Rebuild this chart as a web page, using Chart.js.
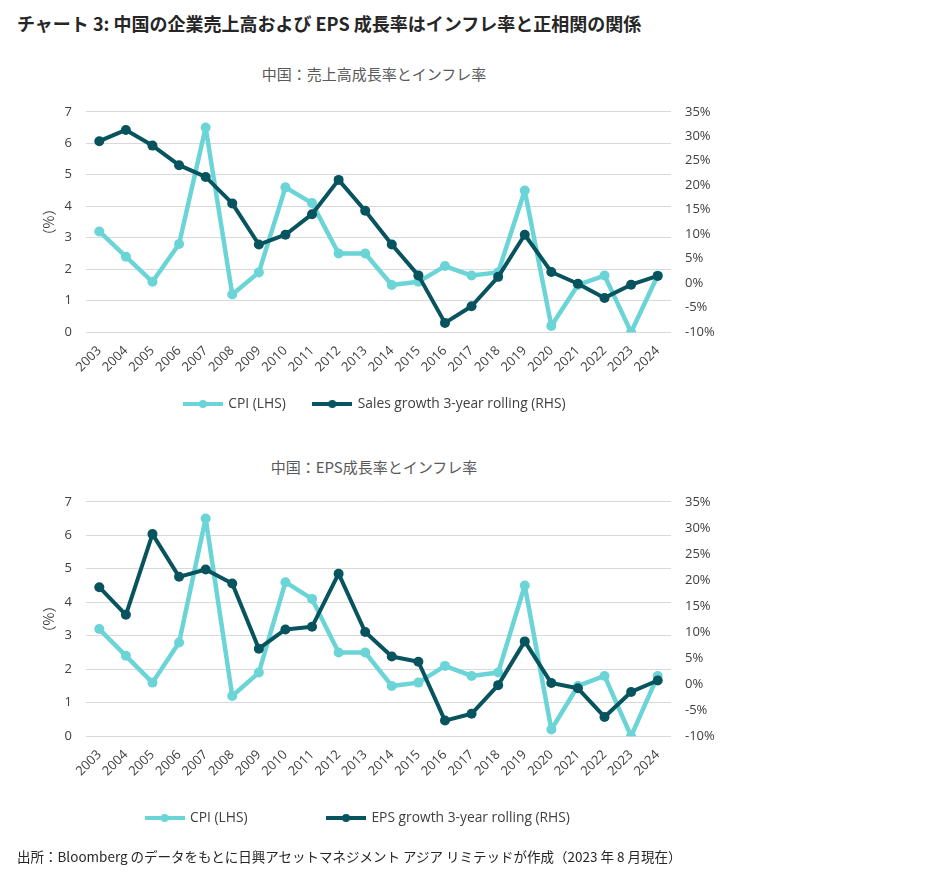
<!DOCTYPE html>
<html lang="ja">
<head>
<meta charset="utf-8">
<script src="https://cdn.jsdelivr.net/npm/chart.js@4.4.0/dist/chart.umd.min.js"></script>
<style>
  body {
    margin: 0;
    width: 932px;
    height: 887px;
    position: relative;
    overflow: hidden;
    background: #fff;
    font-family: "Noto Sans CJK JP", sans-serif;
  }
  .title {
    position: absolute;
    left: 17px;
    top: 10px;
    font-size: 18px;
    font-weight: bold;
    color: #262626;
    white-space: nowrap;
  }
  .subtitle {
    position: absolute;
    left: 0;
    width: 748px;
    text-align: center;
    font-size: 15px;
    color: #595959;
  }
  .source {
    position: absolute;
    left: 17px;
    top: 846px;
    font-size: 13.5px;
    color: #262626;
    white-space: nowrap;
  }
  canvas { position: absolute; left: 0; }
</style>
</head>
<body>
<div class="title">チャート 3: 中国の企業売上高および EPS 成長率はインフレ率と正相関の関係</div>
<div class="subtitle" style="top: 63px;">中国：売上高成長率とインフレ率</div>
<canvas id="sales-chart" width="932" height="345" style="top: 90px;"></canvas>
<div class="subtitle" style="top: 456px;">中国：EPS成長率とインフレ率</div>
<canvas id="eps-chart" width="932" height="410" style="top: 480px;"></canvas>
<div class="source">出所：Bloomberg のデータをもとに日興アセットマネジメント アジア リミテッドが作成（2023 年 8 月現在）</div>

<script>
// ==================== Data ====================

const YEARS = ['2003', '2004', '2005', '2006', '2007', '2008', '2009', '2010', '2011', '2012', '2013',
  '2014', '2015', '2016', '2017', '2018', '2019', '2020', '2021', '2022', '2023', '2024'];

// CPI, % (left axis)
const CPI = [3.2, 2.4, 1.6, 2.8, 6.5, 1.2, 1.9, 4.6, 4.1, 2.5, 2.5,
  1.5, 1.6, 2.1, 1.8, 1.9, 4.5, 0.2, 1.5, 1.8, 0.0, 1.8];

// Sales growth 3-year rolling, % (right axis)
const SALES_GROWTH = [29.0, 31.3, 28.1, 24.1, 21.7, 16.3, 7.9, 9.9, 14.1, 21.1, 14.8,
  7.9, 1.6, -8.1, -4.7, 1.3, 9.9, 2.3, -0.1, -3.0, -0.3, 1.5];

// EPS growth 3-year rolling, % (right axis)
const EPS_GROWTH = [18.6, 13.3, 28.8, 20.6, 22.0, 19.3, 6.8, 10.5, 11.0, 21.2, 10.0,
  5.3, 4.3, -7.0, -5.7, -0.2, 8.2, 0.2, -0.8, -6.3, -1.5, 0.7];

// Axis ranges
const LEFT_RANGE = [0, 7, 1];       // min, max, step
const RIGHT_RANGE = [-10, 35, 5];   // min, max, step

const CPI_COLOR = '#6bd4d6';
const GROWTH_COLOR = '#07535e';
const TEXT_COLOR = '#404040';
const GRID_COLOR = '#d9d9d9';
const TICK_FONT = { family: '"Open Sans", sans-serif', size: 13 };
const LEGEND_FONT_SIZE = 13.8;

// ==================== Helpers ====================

/**
 * Line-with-dot marker used as legend point style
 */
function legendMarker(color) {
  const c = document.createElement('canvas');
  c.width = 40;
  c.height = 10;
  const g = c.getContext('2d');
  g.strokeStyle = color;
  g.lineWidth = 4;
  g.beginPath();
  g.moveTo(0, 5);
  g.lineTo(40, 5);
  g.stroke();
  g.fillStyle = color;
  g.beginPath();
  g.arc(20, 5, 4, 0, Math.PI * 2);
  g.fill();
  return c;
}

/**
 * Put the legend row at a fixed height, independent of its item spacing
 */
const legendPlace = {
  id: 'legendPlace',
  afterLayout(chart, args, opts) {
    const lg = chart.legend;
    if (!lg || opts.textY == null) return;
    const shift = opts.textY - (lg.top + lg.options.labels.padding + LEGEND_FONT_SIZE / 2);
    lg.top += shift;
    lg.bottom += shift;
  }
};

/**
 * Build one dual-axis line chart
 */
function makeChart(canvasId, growthData, growthLabel, layout) {
  const ctx = document.getElementById(canvasId).getContext('2d');
  const markers = [legendMarker(CPI_COLOR), legendMarker(GROWTH_COLOR)];

  const lineStyle = {
    borderWidth: 4.5,
    borderJoinStyle: 'round',
    borderCapStyle: 'round',
    pointRadius: 5,
    pointHoverRadius: 5,
    pointBorderWidth: 0
  };

  return new Chart(ctx, {
    type: 'line',
    plugins: [legendPlace],
    data: {
      labels: YEARS,
      datasets: [
        {
          ...lineStyle,
          label: 'CPI (LHS)',
          data: CPI,
          yAxisID: 'yLeft',
          borderColor: CPI_COLOR,
          backgroundColor: CPI_COLOR,
          order: 2
        },
        {
          ...lineStyle,
          label: growthLabel,
          data: growthData,
          yAxisID: 'yRight',
          borderColor: GROWTH_COLOR,
          backgroundColor: GROWTH_COLOR,
          borderWidth: 4,
          order: 1
        }
      ]
    },
    options: {
      responsive: false,
      animation: false,
      devicePixelRatio: 1,
      layout: {
        padding: { left: 0, right: 932 - 671 - layout.rightWidth, top: layout.top, bottom: layout.bottom }
      },
      plugins: {
        tooltip: { enabled: false },
        legendPlace: { textY: layout.legendY },
        legend: {
          position: 'bottom',
          labels: {
            usePointStyle: true,
            pointStyleWidth: 37,
            padding: layout.legendGap,
            color: TEXT_COLOR,
            font: { family: '"Open Sans", sans-serif', size: LEGEND_FONT_SIZE },
            generateLabels: (chart) => chart.data.datasets.map((ds, i) => ({
              text: ds.label,
              pointStyle: markers[i],
              fillStyle: ds.borderColor,
              strokeStyle: ds.borderColor,
              lineWidth: 0,
              fontColor: TEXT_COLOR,
              hidden: false,
              datasetIndex: i
            }))
          }
        }
      },
      scales: {
        x: {
          offset: true,
          grid: { display: false },
          border: { display: false },
          ticks: {
            minRotation: 45,
            maxRotation: 45,
            autoSkip: false,
            padding: 3,
            color: TEXT_COLOR,
            font: TICK_FONT
          },
          afterFit: (scale) => { scale.height = 46; }
        },
        yLeft: {
          position: 'left',
          min: LEFT_RANGE[0],
          max: LEFT_RANGE[1],
          grid: { color: GRID_COLOR, drawTicks: false },
          border: { display: false },
          ticks: { stepSize: LEFT_RANGE[2], padding: 14, color: TEXT_COLOR, font: TICK_FONT },
          title: {
            display: true,
            text: '（%）',
            color: TEXT_COLOR,
            font: { family: '"Noto Sans CJK JP", sans-serif', size: 14 },
            padding: { top: 40, bottom: 0 }
          },
          afterFit: (scale) => { scale.width = 86; }
        },
        yRight: {
          position: 'right',
          min: RIGHT_RANGE[0],
          max: RIGHT_RANGE[1],
          grid: { drawOnChartArea: false, drawTicks: false },
          border: { display: false },
          ticks: {
            stepSize: RIGHT_RANGE[2],
            padding: 14,
            color: TEXT_COLOR,
            font: TICK_FONT,
            callback: v => v + '%'
          },
          afterFit: (scale) => { scale.width = layout.rightWidth; }
        }
      }
    }
  });
}

makeChart('sales-chart', SALES_GROWTH, 'Sales growth 3-year rolling (RHS)',
  { top: 17, bottom: 5, legendGap: 28, rightWidth: 79, legendY: 404 - 90 });

makeChart('eps-chart', EPS_GROWTH, 'EPS growth 3-year rolling (RHS)',
  { top: 20, bottom: 4, legendGap: 80, rightWidth: 45, legendY: 818 - 480 });
</script>
</body>
</html>
